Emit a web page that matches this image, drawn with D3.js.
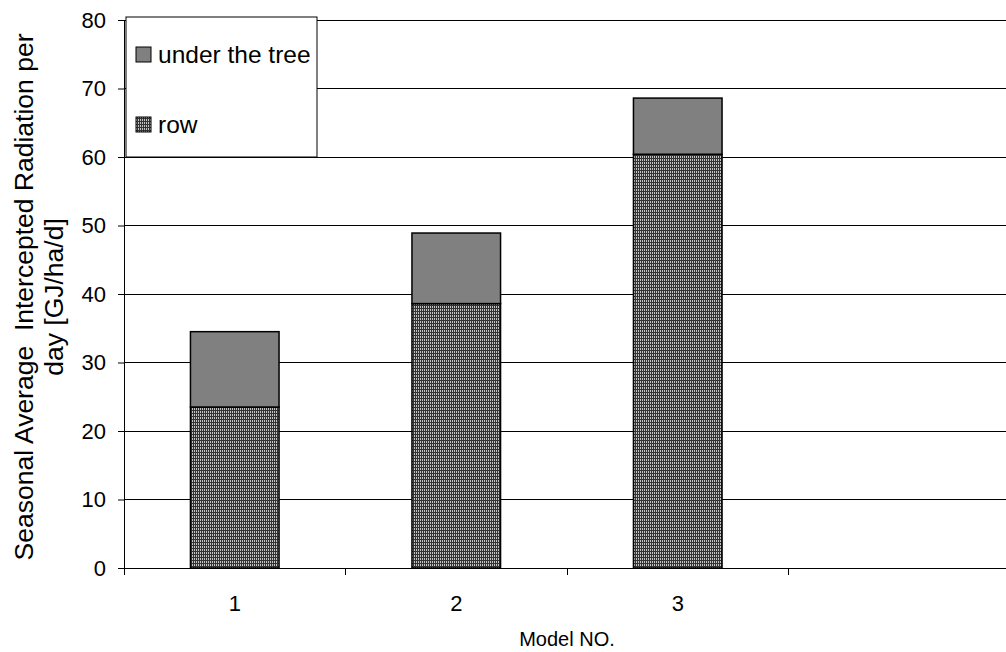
<!DOCTYPE html>
<html>
<head>
<meta charset="utf-8">
<script src="https://cdn.jsdelivr.net/npm/d3@7"></script>
<style>
  html, body { margin: 0; padding: 0; background: #fff; }
  svg { display: block; font-family: "Liberation Sans", Arial, sans-serif; }
</style>
</head>
<body>
<svg id="chart" width="1006" height="652"></svg>
<script>
// Model categories (the fourth slot is left empty on the axis)
const categories = ["1", "2", "3", ""];
// Intercepted radiation in the row [GJ/ha/d]
const rowValues = [23.5, 38.6, 60.4, null];
// Additional radiation intercepted under the tree [GJ/ha/d]
const treeValues = [11.0, 10.3, 8.2, null];
const yTicks = [0, 10, 20, 30, 40, 50, 60, 70, 80];
const seriesNames = ["under the tree", "row"];

const svg = d3.select("#chart");
const margin = { left: 124, right: -4, top: 20, bottom: 84 };
const W = 1006, H = 652;

const x = d3.scaleBand().domain(categories).range([margin.left, W - margin.right]).paddingInner(0).paddingOuter(0);
const y = d3.scaleLinear().domain([0, 80]).range([H - margin.bottom, margin.top]);

// Fine dotted fill for the "row" series
const defs = svg.append("defs");
const pat = defs.append("pattern").attr("id", "rowPat").attr("patternUnits", "userSpaceOnUse")
  .attr("width", 2).attr("height", 3);
pat.append("rect").attr("width", 2).attr("height", 3).attr("fill", "#333333");
pat.append("rect").attr("x", 0).attr("y", 0).attr("width", 1).attr("height", 2).attr("fill", "#c4c4c4");

// Horizontal gridlines
svg.append("g").selectAll("line").data(yTicks.filter(d => d > 0)).join("line")
  .attr("x1", margin.left).attr("x2", W)
  .attr("y1", d => y(d)).attr("y2", d => y(d))
  .attr("stroke", "#000").attr("stroke-width", 1).attr("shape-rendering", "crispEdges");

// Stacked bars
const barW = x.bandwidth() * 0.4;
const data = categories.map((c, i) => ({ c, row: rowValues[i], tree: treeValues[i] })).filter(d => d.row != null);

const bars = svg.append("g");
bars.selectAll("rect.row").data(data).join("rect").attr("class", "row")
  .attr("x", d => x(d.c) + (x.bandwidth() - barW) / 2)
  .attr("width", barW)
  .attr("y", d => y(d.row))
  .attr("height", d => y(0) - y(d.row))
  .attr("fill", "url(#rowPat)").attr("stroke", "#000").attr("stroke-width", 1.5);

bars.selectAll("rect.tree").data(data).join("rect").attr("class", "tree")
  .attr("x", d => x(d.c) + (x.bandwidth() - barW) / 2)
  .attr("width", barW)
  .attr("y", d => y(d.row + d.tree))
  .attr("height", d => y(d.row) - y(d.row + d.tree))
  .attr("fill", "#808080").attr("stroke", "#000").attr("stroke-width", 1.5);

// Y axis
const yAxis = svg.append("g").attr("transform", `translate(${margin.left},0)`)
  .call(d3.axisLeft(y).tickValues(yTicks).tickSize(6).tickPadding(12).tickFormat(d3.format("d")));
yAxis.select(".domain").attr("stroke", "#000");
yAxis.selectAll("text").style("font-size", "22px").attr("fill", "#000")
  .style("font-family", "'Liberation Sans', Arial, sans-serif");

// X axis: ticks at the category boundaries, labels centred in each band
const xg = svg.append("g").attr("transform", `translate(0,${y(0)})`);
xg.append("line").attr("x1", margin.left).attr("x2", W).attr("y1", 0).attr("y2", 0)
  .attr("stroke", "#000").attr("shape-rendering", "crispEdges");
xg.selectAll("line.tick").data(categories).join("line").attr("class", "tick")
  .attr("x1", d => x(d)).attr("x2", d => x(d)).attr("y1", 0).attr("y2", 7)
  .attr("stroke", "#000").attr("shape-rendering", "crispEdges");
xg.selectAll("text").data(categories).join("text")
  .attr("x", d => x(d) + x.bandwidth() / 2).attr("y", 43)
  .attr("text-anchor", "middle").style("font-size", "22px").text(d => d);

// Axis titles
svg.append("text").attr("x", (margin.left + W - margin.right) / 2).attr("y", 646)
  .attr("text-anchor", "middle").style("font-size", "20px").text("Model NO.");

const yTitle = svg.append("text")
  .attr("transform", `translate(0,297) rotate(-90)`)
  .attr("text-anchor", "middle").style("font-size", "26.5px").style("white-space", "pre");
yTitle.append("tspan").attr("x", 0).attr("y", 33).text("Seasonal Average  Intercepted Radiation per");
yTitle.append("tspan").attr("x", 0).attr("y", 63).text("day [GJ/ha/d]");

// Legend
const lg = svg.append("g").attr("transform", "translate(126,17)");
lg.append("rect").attr("width", 191).attr("height", 140).attr("fill", "#fff")
  .attr("stroke", "#000").attr("stroke-width", 1);
const fills = ["#808080", "url(#rowPat)"];
const ly = [30, 100];
seriesNames.forEach((name, i) => {
  lg.append("rect").attr("x", 10).attr("y", ly[i]).attr("width", 15).attr("height", 15)
    .attr("fill", fills[i]).attr("stroke", "#000").attr("stroke-width", 1);
  lg.append("text").attr("x", 32).attr("y", ly[i] + 16).style("font-size", "24.5px").text(name);
});
</script>
</body>
</html>
